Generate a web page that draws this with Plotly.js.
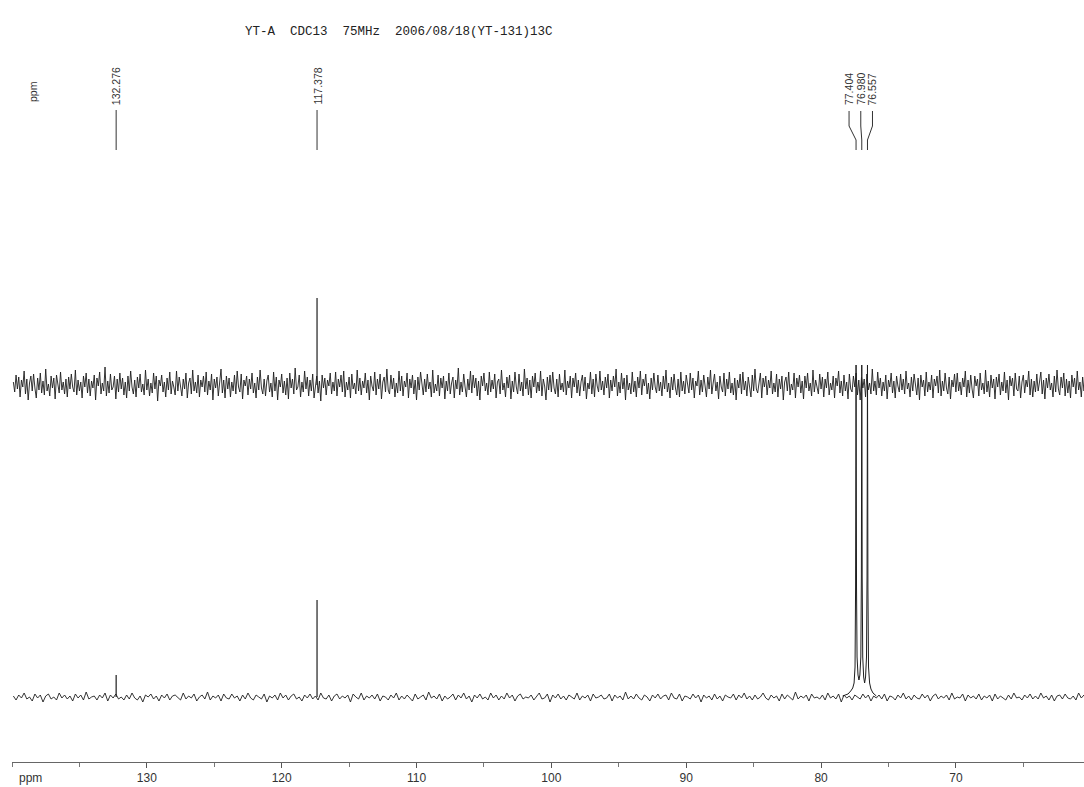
<!DOCTYPE html>
<html>
<head>
<meta charset="utf-8">
<script src="https://cdn.plot.ly/plotly-3.0.1.min.js"></script>
<style>
html,body{margin:0;padding:0;background:#fff;}
#chart{width:1084px;height:787px;}
</style>
</head>
<body>
<div id="chart"></div>
<script>
// ---------- data ----------
const titleText = "YT-A  CDC13  75MHz  2006/08/18(YT-131)13C";
const xTickVals = [130, 120, 110, 100, 90, 80, 70];
const peakPpm = [132.276, 117.378, 77.404, 76.980, 76.557];

// noise sampling grid (ppm) for the two traces
const topStart = 139.9, topStep = -0.1;
const botStart = 139.9, botStep = -0.2;

// upper (expanded) trace baseline noise
const topNoise = [
 3,-7,10,-4,8,-12,5,-2,14,-9,6,-15,2,9,-6,11,-3,-13,7,-5,
 12,-8,4,-10,16,-6,1,-11,9,-3,7,-14,10,-1,-8,13,-5,3,-9,6,
 -12,8,-4,11,-2,-7,15,-10,5,-6,3,-13,9,-2,12,-8,6,-11,4,-3,
 10,-15,7,-1,13,-9,2,-6,18,-11,4,-8,11,-5,-2,9,-14,6,-7,12,
 -4,7,-10,3,-13,9,-6,14,-2,-9,5,-12,8,-3,11,-7,1,-10,15,-5,
 6,-11,2,-8,12,-4,9,-16,5,-1,10,-7,3,-12,7,-5,13,-9,4,-2,
 -10,14,-6,8,-3,-11,6,-4,12,-13,2,7,-9,15,-6,3,-8,10,-12,5,
 -2,9,-7,13,-10,4,-5,11,-15,6,-3,8,-11,2,16,-8,5,-13,9,-4,
 7,-12,3,-6,10,-9,14,-2,-7,11,-14,5,-1,9,-10,6,-4,12,-8,2,
 -13,8,-5,15,-3,-9,6,-11,4,10,-7,2,-12,13,-6,8,-15,5,-2,11,
 -8,4,-10,7,-14,12,-3,6,-9,17,-5,-2,10,-12,3,-7,14,-4,8,-11,
 5,-6,11,-13,2,9,-8,4,-16,10,-3,7,-10,5,-1,12,-9,3,-6,13,
 -11,6,-2,10,-7,14,-12,3,-5,8,-13,11,-4,2,-9,15,-6,7,-10,4,
 -3,12,-8,5,-15,9,-1,-6,13,-10,6,-4,11,-14,3,8,-7,16,-5,-9,
 10,-4,7,-12,2,-8,14,-6,9,-11,4,-2,12,-13,6,-3,10,-9,5,-15,
 8,-5,13,-2,-10,6,-7,11,-4,3,-12,15,-8,1,-6,10,-11,7,-3,9,
 -14,4,-6,12,-9,2,8,-13,5,-4,17,-10,3,-7,11,-2,-12,6,-5,14,
 -8,10,-3,7,-11,4,-15,9,-1,12,-6,2,-10,13,-7,5,-4,11,-13,3,
 6,-9,15,-5,2,-12,8,-3,10,-14,4,-7,13,-2,-9,11,-6,3,-11,16,
 -4,7,-10,5,-13,9,-2,12,-8,3,-6,14,-11,6,-1,-15,8,-5,10,-7,
 13,-3,-9,6,-12,11,-5,2,-7,15,-10,4,-3,9,-13,7,-2,12,-8,5,
 -11,3,10,-6,8,-14,2,-4,13,-9,6,-12,11,-1,-7,14,-5,4,-10,8,
 -3,11,-13,5,-6,9,-2,16,-11,3,-8,12,-4,7,-15,10,-5,2,-9,13,
 -7,4,-12,8,-3,14,-10,6,-1,11,-9,2,-14,7,-5,12,-2,-8,10,-6,
 3,-11,9,-4,15,-7,2,-13,8,-5,11,-3,-10,6,-12,13,-6,4,-9,10,
 -2,-8,12,-5,7,-13,4,-1,14,-10,5,-7,10,-3,-12,8,-4,15,-9,2,
 11,-6,3,-14,9,-2,-7,12,-11,6,-4,13,-8,2,-10,7,-15,5,-3,11,
 -9,13,-5,4,-11,8,-1,-12,10,-6,16,-4,-8,3,12,-13,7,-2,9,-10,
 5,-3,14,-9,2,-7,11,-12,6,-4,9,-15,3,8,-6,13,-10,1,-5,12,
 -13,7,-2,10,-8,4,-14,9,-3,12,-6,2,-11,15,-7,5,-1,-9,11,-4,
 8,-12,6,-3,13,-10,2,-5,9,-13,7,-1,14,-8,4,-11,10,-6,3,-14,
 11,-4,-7,9,-2,12,-10,5,-15,8,-3,6,-12,11,-5,2,-9,16,-6,4,
 -10,13,-3,7,-11,3,-6,10,-14,5,-2,12,-8,4,-13,9,-1,-7,11,-5,
 6,-9,14,-4,2,-12,8,-6,11,-3,-10,7,-15,10,-2,5,-11,13,-7,3,
 -5,10,-13,6,-1,9,-8,15,-11,4,-6,12,-3,-9,8,-14,5,-2,11,-7,
 12,-6,3,-10,7,-2,14,-12,5,-8,10,-4,-13,9,-1,6,-11,12,-5,2,
 -9,15,-7,4,-12,10,-3,6,-14,8,-2,11,-10,3,-6,13,-8,5,-15,9,
 -1,7,-11,12,-4,-6,9,-13,3,10,-8,5,-2,14,-10,6,-12,4,-7,11,
 -6,3,13,-9,5,-14,7,-3,11,-5,2,-12,9,-7,15,-4,-10,8,-3,12,
 -11,6,-8,4,-13,10,-2,7,-9,14,-5,3,-12,8,-6,11,-14,5,-1,9
];

// lower (full) trace baseline noise
const botNoise = [
 1,-3,2,-1,4,-2,0,-4,3,-1,2,-5,1,3,-2,0,-3,4,-1,2,
 -2,1,-4,3,-1,2,-3,5,-2,0,1,-3,2,-1,4,-4,2,-1,3,-2,
 0,-3,2,-2,4,-1,-3,1,-5,2,0,3,-2,1,-4,2,-1,3,-3,1,
 2,-1,-3,4,-2,1,-1,3,-4,0,2,-2,5,-3,1,-1,2,-4,3,-1,
 -2,3,-1,1,-4,2,-2,4,-1,-3,2,0,-2,3,-5,1,-1,2,-3,4,
 -1,2,-3,1,3,-2,0,-4,2,-1,3,-2,1,-3,4,-1,-2,2,-4,1,
 3,-2,1,-1,2,-5,3,0,-2,4,-3,1,-1,2,-2,3,-4,1,0,-3,
 2,-1,4,-3,1,-2,2,-1,-4,3,-2,0,2,-3,5,-1,1,-2,3,-4,
 1,-2,0,3,-3,2,-1,4,-2,1,-5,2,-1,3,-2,0,-3,4,-1,2,
 -3,1,-2,4,-1,2,-4,1,3,-2,0,-1,2,-3,1,4,-2,-1,3,-5,
 2,-1,3,-2,1,-3,2,0,-2,4,-3,1,-1,2,-4,3,-1,0,2,-2,
 -1,3,-4,2,-1,1,-3,5,-2,1,-2,3,-1,-3,2,0,-4,2,-1,3,
 -2,1,2,-3,4,-1,-2,3,-4,1,0,-2,3,-1,2,-5,2,-1,1,-3,
 3,-2,1,-4,2,0,-1,3,-3,2,-1,4,-2,1,-3,2,-2,0,4,-1,
 -3,2,-1,1,-4,3,-2,2,-1,-3,5,-2,1,-1,2,-4,3,-1,0,-2,
 2,-3,4,-1,1,-2,3,-5,2,-1,1,-3,2,0,-2,3,-1,2,-4,1,
 -1,2,-2,3,-4,1,0,-3,2,-1,4,-2,1,-3,2,-1,-2,3,-1,2,
 -4,1,3,-2,1,-1,2,-3,4,-2,0,-1,3,-4,2,-1,1,-2,3,-3,
 1,-1,2,-4,3,-2,1,-1,-3,2,-2,4,-1,0,-3,2,-1,3,-2,1,
 -2,4,-1,1,-3,2,-4,1,2,-2,3,-1,-2,1,-3,4,-1,2,-3,1
];

// single lines
const botPeakPpm = [132.276, 117.378];
const botPeakHeight = [22, 97];
const topPeakPpm = [117.378];
const topPeakHeight = [87];

// CDCl3 triplet (lower trace)
const tripletPpm = [78.4,78.0,77.8,77.65,77.55,77.48,77.44,77.42,77.404,77.39,77.37,77.33,77.26,77.19,77.12,77.05,77.01,76.995,76.98,76.965,76.95,76.91,76.84,76.77,76.70,76.63,76.59,76.572,76.557,76.542,76.525,76.48,76.4,76.3,76.15,75.9];
const tripletHeight = [1,3,6,9,14,30,110,240,332,240,110,40,22,17,22,40,120,240,332,240,120,40,20,14,20,40,120,240,332,240,110,30,14,8,4,1];

// ---------- styling / layout constants ----------
const ink = '#1e1e1e';
const labelShift = [0, 0, -7, -1, 5];   // px offset of each label from its peak

function stickTrace(ppm, h, yaxis) {
  const xs = [], ys = [];
  ppm.forEach((p, i) => { xs.push(p, p, null); ys.push(0, h[i], null); });
  return {x: xs, y: ys, type: 'scatter', mode: 'lines', yaxis: yaxis,
          line: {color: ink, width: 1.2}, hoverinfo: 'skip'};
}

const traces = [
  {y: topNoise, x0: topStart, dx: topStep, type: 'scatter', mode: 'lines', yaxis: 'y2',
   line: {color: ink, width: 0.9}, hoverinfo: 'skip'},
  stickTrace(topPeakPpm, topPeakHeight, 'y2'),
  {y: botNoise, x0: botStart, dx: botStep, type: 'scatter', mode: 'lines', yaxis: 'y',
   line: {color: ink, width: 0.9}, hoverinfo: 'skip'},
  stickTrace(botPeakPpm, botPeakHeight, 'y'),
  {x: tripletPpm, y: tripletHeight, type: 'scatter', mode: 'lines', yaxis: 'y',
   line: {color: ink, width: 1}, hoverinfo: 'skip'}
];

const H = 762; // plot-area height in px
const py = v => (H - v) / H; // pixel row -> paper y

const shapes = [], annotations = [];
peakPpm.forEach((p, i) => {
  const s = labelShift[i];
  shapes.push({
    type: 'path', xref: 'x', xsizemode: 'pixel', xanchor: p, yref: 'paper',
    path: s === 0
      ? `M 0,${py(110)} L 0,${py(150)}`
      : `M ${s},${py(111)} L ${s},${py(126)} L 0,${py(140)} L 0,${py(150)}`,
    line: {color: '#333', width: 1}
  });
  annotations.push({
    x: p, xref: 'x', y: py(107), yref: 'paper', xshift: s,
    text: p.toFixed(3), textangle: -90, showarrow: false,
    xanchor: 'center', yanchor: 'bottom',
    font: {family: 'Liberation Sans, Arial, sans-serif', size: 10.5, color: '#333'}
  });
});
annotations.push({
  x: (33 - 12) / 1072, xref: 'paper', y: py(92), yref: 'paper', text: 'ppm',
  textangle: -90, showarrow: false, xanchor: 'center', yanchor: 'middle',
  font: {family: 'Liberation Sans, Arial, sans-serif', size: 10.5, color: '#333'}
});
annotations.push({
  x: (30 - 12) / 1072, xref: 'paper', y: py(778), yref: 'paper', text: 'ppm',
  showarrow: false, xanchor: 'center', yanchor: 'middle',
  font: {family: 'Liberation Sans, Arial, sans-serif', size: 12, color: '#333'}
});
annotations.push({
  x: (399 - 12) / 1072, xref: 'paper', y: py(32), yref: 'paper', text: titleText,
  showarrow: false, xanchor: 'center', yanchor: 'middle',
  font: {family: 'Liberation Mono, DejaVu Sans Mono, monospace', size: 12.5, color: '#222'}
});

const layout = {
  width: 1084, height: 787,
  margin: {l: 12, r: 0, t: 0, b: 25, pad: 0},
  paper_bgcolor: '#fff', plot_bgcolor: '#fff',
  showlegend: false,
  xaxis: {
    range: [140.0, 60.5], tickmode: 'array', tickvals: xTickVals,
    ticks: 'outside', ticklen: 5, tickcolor: '#555', tickwidth: 1,
    minor: {dtick: 5, tick0: 0, ticks: 'outside', ticklen: 4, tickcolor: '#777', showgrid: false},
    showline: true, linecolor: '#666', linewidth: 1,
    showgrid: false, zeroline: false, automargin: false,
    tickfont: {family: 'Liberation Sans, Arial, sans-serif', size: 12, color: '#333'},
    fixedrange: true
  },
  yaxis: {range: [-65, 697], domain: [0, 1], visible: false, fixedrange: true},
  yaxis2: {range: [-377, 385], overlaying: 'y', visible: false, fixedrange: true},
  shapes: shapes,
  annotations: annotations
};

Plotly.newPlot('chart', traces, layout, {staticPlot: true, displayModeBar: false});
</script>
</body>
</html>
